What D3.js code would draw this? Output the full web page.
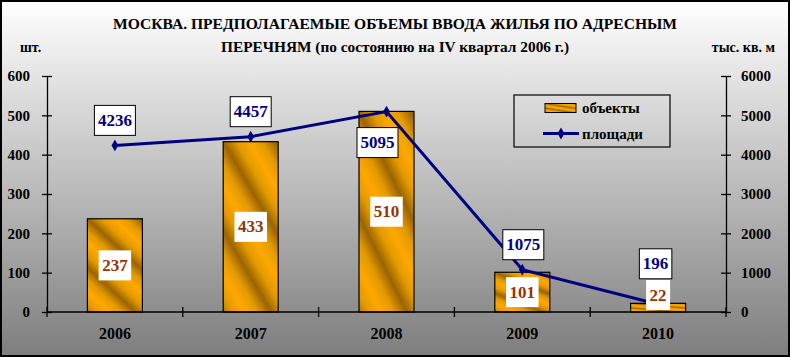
<!DOCTYPE html>
<html><head><meta charset="utf-8">
<script src="https://cdn.jsdelivr.net/npm/d3@7/dist/d3.min.js"></script>
<style>html,body{margin:0;padding:0;background:#fff;}svg{display:block;}</style>
</head><body>
<svg id="c" width="790" height="357"></svg>
<script>
// ---- data ----
const years = ["2006", "2007", "2008", "2009", "2010"];
const objects = [237, 433, 510, 101, 22];          // шт.
const areas = [4236, 4457, 5095, 1075, 196];       // тыс. кв. м
const leftTicks = [0, 100, 200, 300, 400, 500, 600];
const rightTicks = [0, 1000, 2000, 3000, 4000, 5000, 6000];
const titleLines = ["МОСКВА. ПРЕДПОЛАГАЕМЫЕ ОБЪЕМЫ ВВОДА ЖИЛЬЯ ПО АДРЕСНЫМ", "ПЕРЕЧНЯМ (по состоянию на IV квартал 2006 г.)"];
const legendLabels = ["объекты", "площади"];

// ---- layout / style ----
const W = 790, H = 357;
const plot = {left: 47, right: 726, top: 76, bottom: 312};
const serif = "'Liberation Serif','Times New Roman',serif";
// label offsets for line labels (box centre relative to point)
const lineLabelOffsets = [[0, -25], [0, -25], [-9, 31], [1, -25], [-2.5, -40.5]];

const svg = d3.select("#c");
const defs = svg.append("defs");
const bg = defs.append("linearGradient").attr("id", "bg").attr("x1", 0).attr("y1", 0).attr("x2", 0).attr("y2", 1);
bg.append("stop").attr("offset", 0).attr("stop-color", "#ffffff");
bg.append("stop").attr("offset", 1).attr("stop-color", "#7e7e7e");

const gold = defs.append("linearGradient").attr("id", "gold")
  .attr("gradientUnits", "objectBoundingBox")
  .attr("x1", 0).attr("y1", 0).attr("x2", -0.11).attr("y2", 0.2)
  .attr("spreadMethod", "reflect");
gold.append("stop").attr("offset", 0).attr("stop-color", "#9a6400");
gold.append("stop").attr("offset", 0.5).attr("stop-color", "#e39a00");
gold.append("stop").attr("offset", 1).attr("stop-color", "#ffa800");

svg.append("rect").attr("x", 1).attr("y", 1).attr("width", W - 2).attr("height", H - 2)
  .attr("fill", "url(#bg)").attr("stroke", "#000").attr("stroke-width", 2);

// title
svg.append("text").attr("x", 395).attr("y", 29).attr("text-anchor", "middle")
  .attr("font-family", serif).attr("font-weight", "bold").attr("font-size", 15)
  .attr("textLength", 564).attr("lengthAdjust", "spacingAndGlyphs").text(titleLines[0]);
svg.append("text").attr("x", 395).attr("y", 52).attr("text-anchor", "middle")
  .attr("font-family", serif).attr("font-weight", "bold").attr("font-size", 15)
  .attr("textLength", 348).attr("lengthAdjust", "spacingAndGlyphs").text(titleLines[1]);

svg.append("text").attr("x", 20).attr("y", 52).attr("font-family", serif).attr("font-weight", "bold")
  .attr("font-size", 14).text("шт.");
svg.append("text").attr("x", 775).attr("y", 52).attr("text-anchor", "end").attr("font-family", serif)
  .attr("font-weight", "bold").attr("font-size", 14).text("тыс. кв. м");

// scales
const x = d3.scaleBand().domain(years).range([plot.left, plot.right]).paddingInner(0.595).paddingOuter(0.2975);
const yL = d3.scaleLinear().domain([0, 600]).range([plot.bottom, plot.top]);
const yR = d3.scaleLinear().domain([0, 6000]).range([plot.bottom, plot.top]);
const cx = d => x(d) + x.bandwidth() / 2;

// bars
svg.append("g").selectAll("rect").data(objects).join("rect")
  .attr("x", (d, i) => x(years[i])).attr("width", x.bandwidth())
  .attr("y", d => yL(d)).attr("height", d => yL(0) - yL(d))
  .attr("fill", "url(#gold)").attr("stroke", "#000").attr("stroke-width", 1.2);

// axes
function styleAxis(g, fs) {
  g.selectAll("path").attr("stroke", "#000").attr("stroke-width", 1.3);
  g.selectAll("line").attr("stroke", "#000").attr("stroke-width", 1.3);
  g.selectAll("text").attr("font-family", serif).attr("font-weight", "bold").attr("font-size", fs || 15).attr("fill", "#000");
}
const axL = svg.append("g").attr("transform", `translate(${plot.left},0)`)
  .call(d3.axisLeft(yL).tickValues(leftTicks).tickFormat(d3.format("d")).tickSize(5).tickSizeOuter(0).tickPadding(12));
styleAxis(axL);
axL.selectAll(".tick line").attr("x1", -5).attr("x2", 5);

const axR = svg.append("g").attr("transform", `translate(${plot.right},0)`)
  .call(d3.axisRight(yR).tickValues(rightTicks).tickFormat(d3.format("d")).tickSize(5).tickSizeOuter(0).tickPadding(10));
styleAxis(axR);
axR.selectAll(".tick line").attr("x1", -5).attr("x2", 5);

// x axis line and boundary ticks
const axB = svg.append("g").attr("transform", `translate(0,${plot.bottom})`)
  .call(d3.axisBottom(x).tickSize(0).tickPadding(16));
styleAxis(axB, 16);
axB.select("path").attr("d", `M${plot.left},0H${plot.right}`);
const step = x.step();
const bounds = d3.range(years.length + 1).map(k => plot.left + k * step);
axB.selectAll("line.bd").data(bounds).join("line").attr("class", "bd")
  .attr("x1", d => d).attr("x2", d => d).attr("y1", -5).attr("y2", 5)
  .attr("stroke", "#000").attr("stroke-width", 1.3);

// line
const navy = "#000080";
const line = d3.line().x((d, i) => cx(years[i])).y(d => yR(d));
svg.append("path").datum(areas).attr("d", line).attr("fill", "none").attr("stroke", navy).attr("stroke-width", 3);
const diamond = d3.symbol().type(d3.symbolDiamond).size(40);
svg.append("g").selectAll("path").data(areas).join("path")
  .attr("transform", (d, i) => `translate(${cx(years[i])},${yR(d)})`)
  .attr("d", diamond).attr("fill", navy);

// labels
function labelBox(g, cxp, cyp, text, color, border) {
  const t = g.append("text").attr("x", cxp).attr("y", cyp).attr("text-anchor", "middle")
    .attr("dominant-baseline", "central").attr("font-family", serif).attr("font-weight", "bold")
    .attr("font-size", 17).attr("fill", color).text(text);
  const w = t.node().getComputedTextLength() + 7, h = 30;
  g.insert("rect", "text").attr("x", cxp - w / 2).attr("y", cyp - h / 2).attr("width", w).attr("height", h)
    .attr("fill", "#fff").attr("stroke", border ? "#000" : "none").attr("stroke-width", 1);
}
const gl = svg.append("g");
objects.forEach((d, i) => {
  const g = gl.append("g");
  const mid = (yL(d) + yL(0)) / 2;
  labelBox(g, cx(years[i]), Math.min(mid, yL(0) - 3 - 14), d, "#993300", false);
});
areas.forEach((d, i) => {
  const g = gl.append("g");
  const o = lineLabelOffsets[i];
  labelBox(g, cx(years[i]) + o[0], yR(d) + o[1], d, navy, true);
});

// legend
const lg = svg.append("g");
lg.append("rect").attr("x", 514).attr("y", 95).attr("width", 156).attr("height", 52)
  .attr("fill", "none").attr("stroke", "#000").attr("stroke-width", 1.2);
lg.append("rect").attr("x", 545).attr("y", 103.5).attr("width", 31).attr("height", 9)
  .attr("fill", "url(#gold)").attr("stroke", "#000").attr("stroke-width", 1);
lg.append("line").attr("x1", 543).attr("x2", 579).attr("y1", 133.5).attr("y2", 133.5).attr("stroke", navy).attr("stroke-width", 3);
lg.append("path").attr("transform", "translate(561,133.5)").attr("d", diamond).attr("fill", navy);
lg.selectAll("text").data(legendLabels).join("text")
  .attr("x", 582).attr("y", (d, i) => 108 + i * 25.5).attr("dominant-baseline", "central")
  .attr("font-family", serif).attr("font-weight", "bold").attr("font-size", 15).text(d => d);
</script>
</body></html>
